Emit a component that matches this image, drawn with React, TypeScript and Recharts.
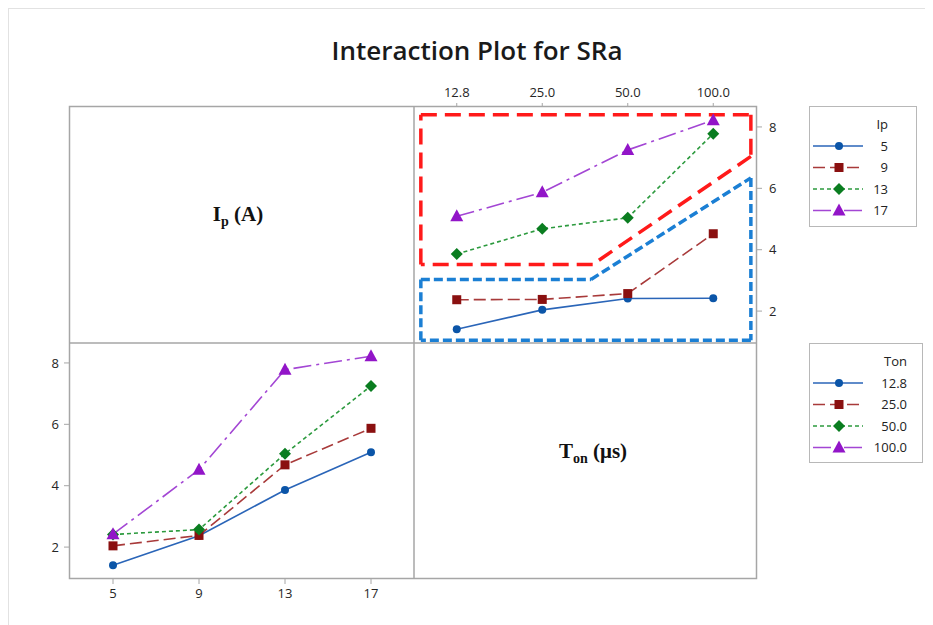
import { LineChart, Line, XAxis, YAxis, ReferenceLine } from 'recharts';

// factor levels
const tonLevels = ['12.8', '25.0', '50.0', '100.0'];
const ipLevels = ['5', '9', '13', '17'];

// mean SRa for each Ip level, read across the Ton levels
const ip5 = [1.41, 2.04, 2.41, 2.42];
const ip9 = [2.37, 2.38, 2.57, 4.52];
const ip13 = [3.86, 4.68, 5.04, 7.78];
const ip17 = [5.09, 5.87, 7.25, 8.22];

const yTicks = [2, 4, 6, 8];

// hand-drawn annotation outlines in the upper-right panel, [position, SRa]
const redOutline = [[0.08, 8.4], [3.94, 8.4], [3.94, 7.04], [2.09, 3.52], [0.08, 3.52], [0.08, 8.4]];
const blueOutline = [[0.08, 3.03], [2.07, 3.03], [3.94, 6.34], [3.94, 1.05], [0.08, 1.05], [0.08, 3.03]];

const ipRows = [ip5, ip9, ip13, ip17];
const ipKeys = ['ip5', 'ip9', 'ip13', 'ip17'];
const tonKeys = ['t12', 't25', 't50', 't100'];

const lineColors = ['#2a65b8', '#a83a3a', '#2c9a3e', '#a346d4'];
const markColors = ['#0b55a8', '#8a1010', '#0a7d20', '#9215c8'];
const dashes = ['', '12 5', '4 3', '18 5 3 5'];
const shapes = ['circle', 'square', 'diamond', 'triangle'];

const FONT = '"Open Sans", "Noto Sans", sans-serif';
const FRAME = '#a6a6a6';
const Y_DOMAIN: [number, number] = [0.96, 8.65];

// Ton on the x axis, one line per Ip level
const byTon = tonLevels.map((t, i) => {
  const row: Record<string, number> = { x: i + 0.5 };
  ipKeys.forEach((k, j) => (row[k] = ipRows[j][i]));
  return row;
});

// Ip on the x axis, one line per Ton level
const byIp = ipLevels.map((p, j) => {
  const row: Record<string, number> = { x: j + 0.5 };
  tonKeys.forEach((k, i) => (row[k] = ipRows[j][i]));
  return row;
});

function Marker({ cx, cy, shape, color }: { cx?: number; cy?: number; shape: string; color: string }) {
  if (cx == null || cy == null) return null;
  if (shape === 'circle') return <circle cx={cx} cy={cy} r={4} fill={color} />;
  if (shape === 'square') return <rect x={cx - 4.5} y={cy - 4.5} width={9} height={9} fill={color} />;
  if (shape === 'diamond')
    return <polygon points={`${cx},${cy - 6} ${cx + 6},${cy} ${cx},${cy + 6} ${cx - 6},${cy}`} fill={color} />;
  return <polygon points={`${cx},${cy - 7} ${cx + 6.5},${cy + 5} ${cx - 6.5},${cy + 5}`} fill={color} />;
}

function series(keys: string[]) {
  return keys.map((k, i) => (
    <Line
      key={k}
      type="linear"
      dataKey={k}
      stroke={lineColors[i]}
      strokeWidth={1.6}
      strokeDasharray={dashes[i]}
      dot={(p: any) => <Marker key={`${k}-${p.index}`} cx={p.cx} cy={p.cy} shape={shapes[i]} color={markColors[i]} />}
      activeDot={false}
      isAnimationActive={false}
    />
  ));
}

function outline(points: number[][], color: string, dash: string, width: number) {
  return points.slice(1).map((pt, i) => (
    <ReferenceLine
      key={`${color}-${i}`}
      segment={[
        { x: points[i][0], y: points[i][1] },
        { x: pt[0], y: pt[1] },
      ]}
      stroke={color}
      strokeWidth={width}
      strokeDasharray={dash}
      ifOverflow="visible"
    />
  ));
}

const tickStyle = { fontSize: 13, fill: '#262626', fontFamily: FONT, fontWeight: 500 };

function LegendBox({ title, labels, left, top, width, height, textRight }: any) {
  return (
    <svg style={{ position: 'absolute', left, top }} width={width} height={height}>
      <rect x={0.5} y={0.5} width={width - 1} height={height - 1} fill="#fff" stroke="#b8b8b8" />
      <text x={textRight} y={23} textAnchor="end" fontSize={13} fontWeight={500} fill="#222" fontFamily={FONT}>
        {title}
      </text>
      {labels.map((lab: string, i: number) => {
        const y = 40 + i * 21.5;
        return (
          <g key={lab}>
            <line x1={4} x2={54} y1={y} y2={y} stroke={lineColors[i]} strokeWidth={1.6} strokeDasharray={dashes[i]} />
            <Marker cx={30} cy={y} shape={shapes[i]} color={markColors[i]} />
            <text x={textRight} y={y + 4.5} textAnchor="end" fontSize={13} fontWeight={500} fill="#222" fontFamily={FONT}>
              {lab}
            </text>
          </g>
        );
      })}
    </svg>
  );
}

export default function App() {
  return (
    <div
      style={{
        position: 'relative',
        width: 925,
        height: 617,
        borderLeft: '1px solid #e2e2e2',
        borderTop: '1px solid #e2e2e2',
        boxSizing: 'border-box',
        fontFamily: FONT,
      }}
    >
      <svg style={{ position: 'absolute', left: 0, top: 0 }} width={925} height={617}>
        <text x={468} y={51} textAnchor="middle" fontSize={26} fontWeight={600} fill="#1a1a1a" fontFamily={FONT}>
          Interaction Plot for SRa
        </text>
        <rect x={60.5} y={97.5} width={687} height={472} fill="none" stroke={FRAME} strokeWidth={1.5} />
        <line x1={405} x2={405} y1={97.5} y2={569.5} stroke={FRAME} strokeWidth={1.5} />
        <line x1={60.5} x2={747.5} y1={334} y2={334} stroke={FRAME} strokeWidth={1.5} />
        <text x={229} y={212} textAnchor="middle" fontSize={21} fontWeight={700} fill="#111" fontFamily='"Liberation Serif", serif'>
          I<tspan fontSize={14} dy={5}>p</tspan>
          <tspan dy={-5}> (A)</tspan>
        </text>
        <text x={584} y={449} textAnchor="middle" fontSize={21} fontWeight={700} fill="#111" fontFamily='"Liberation Serif", serif'>
          T<tspan fontSize={14} dy={5}>on</tspan>
          <tspan dy={-5}> (μs)</tspan>
        </text>
      </svg>

      {/* upper right: SRa vs Ton, lines for Ip */}
      <div style={{ position: 'absolute', left: 405, top: 68 }}>
        <LineChart width={382} height={266} data={byTon} margin={{ top: 0, right: 0, bottom: 0, left: 0 }}>
          <XAxis
            type="number"
            dataKey="x"
            domain={[0, 4]}
            ticks={[0.5, 1.5, 2.5, 3.5]}
            tickFormatter={(v: number) => tonLevels[Math.floor(v)]}
            orientation="top"
            height={30}
            axisLine={false}
            tickSize={4}
            tickMargin={6}
            tick={tickStyle}
            stroke={FRAME}
          />
          <YAxis
            type="number"
            domain={Y_DOMAIN}
            ticks={yTicks}
            orientation="right"
            width={40}
            axisLine={false}
            tickSize={6}
            tickMargin={7}
            tick={tickStyle}
            stroke={FRAME}
            allowDataOverflow
          />
          {outline(redOutline, '#ff1a1a', '16 8', 3.5)}
          {outline(blueOutline, '#1b7fd4', '9 4', 3.5)}
          {series(ipKeys)}
        </LineChart>
      </div>

      {/* lower left: SRa vs Ip, lines for Ton */}
      <div style={{ position: 'absolute', left: 11, top: 334 }}>
        <LineChart width={394} height={271} data={byIp} margin={{ top: 0, right: 0, bottom: 0, left: 0 }}>
          <XAxis
            type="number"
            dataKey="x"
            domain={[0, 4]}
            ticks={[0.5, 1.5, 2.5, 3.5]}
            tickFormatter={(v: number) => ipLevels[Math.floor(v)]}
            height={35}
            axisLine={false}
            tickSize={5}
            tickMargin={5}
            tick={tickStyle}
            stroke={FRAME}
          />
          <YAxis
            type="number"
            domain={Y_DOMAIN}
            ticks={yTicks}
            width={50}
            axisLine={false}
            tickSize={6}
            tickMargin={5}
            tick={tickStyle}
            stroke={FRAME}
            allowDataOverflow
          />
          {series(tonKeys)}
        </LineChart>
      </div>

      <LegendBox title="Ip" labels={ipLevels} left={800} top={97} width={108} height={121} textRight={79} />
      <LegendBox title="Ton" labels={tonLevels} left={800} top={334} width={114} height={120} textRight={98} />
    </div>
  );
}
